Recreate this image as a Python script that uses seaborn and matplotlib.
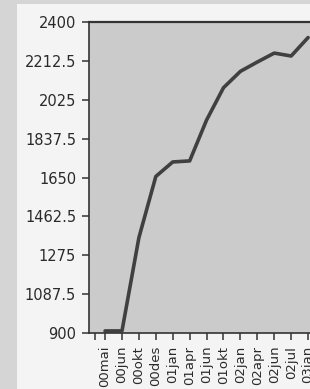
import matplotlib
matplotlib.use("Agg")
import matplotlib.pyplot as plt
from matplotlib.patches import Rectangle
import seaborn as sns
import pandas as pd

# ---- data ----
periods = ["00mai", "00jun", "00okt", "00des", "01jan", "01apr",
           "01jun", "01okt", "02jan", "02apr", "02jun", "02jul",
           "03jan"]
values = [910, 910, 1360, 1655, 1725, 1730, 1927, 2083, 2162, 2207, 2250,
          2236, 2325]
y_ticks = [900, 1087.5, 1275, 1462.5, 1650, 1837.5, 2025, 2212.5, 2400]
y_tick_labels = ["900", "1087.5", "1275", "1462.5", "1650", "1837.5",
                 "2025", "2212.5", "2400"]

sns.set_theme(style="ticks")
plt.rcParams["font.family"] = ["DejaVu Sans"]

W, H = 310, 389
fig = plt.figure(figsize=(W / 100, H / 100), dpi=100, facecolor="#d5d5d5")
fig.patches.append(Rectangle((17 / W, 0), 1, (H - 4) / H,
                             transform=fig.transFigure, facecolor="#f4f4f4",
                             edgecolor="none", zorder=-10))

px_per_cat = (308 - 105) / 12
x_left, x_right = -0.95, 13.2
ax = fig.add_axes([89 / W, 56 / H, (x_right - x_left) * px_per_cat / W, 311 / H])
ax.set_zorder(5)
ax.set_facecolor("#cbcbcb")

df = pd.DataFrame({"period": periods, "value": values})
sns.lineplot(data=df, x="period", y="value", ax=ax, color="#404040",
             linewidth=2.6, sort=False)

ax.set_xlim(x_left, x_right)
ax.set_ylim(900, 2400)
ax.set_xlabel("")
ax.set_ylabel("")

ax.set_yticks(y_ticks)
ax.set_yticklabels(y_tick_labels, fontsize=10.5, color="#2a2a2a")
ax.set_xticks([-0.6] + list(range(len(periods))))
ax.set_xticklabels([""] + periods, rotation=90, fontsize=9.5, color="#2a2a2a")

ax.tick_params(axis="y", direction="out", length=5, width=1.1, pad=4.3,
               color="#333333")
ax.tick_params(axis="x", direction="out", length=5, width=1.1, pad=4.2,
               color="#333333")

for side in ["left", "bottom", "top", "right"]:
    ax.spines[side].set_visible(True)
    ax.spines[side].set_color("#333333")
    ax.spines[side].set_linewidth(1.2)
ax.spines["top"].set_linewidth(1.6)

fig.savefig("out.png", dpi=100, facecolor=fig.get_facecolor())
